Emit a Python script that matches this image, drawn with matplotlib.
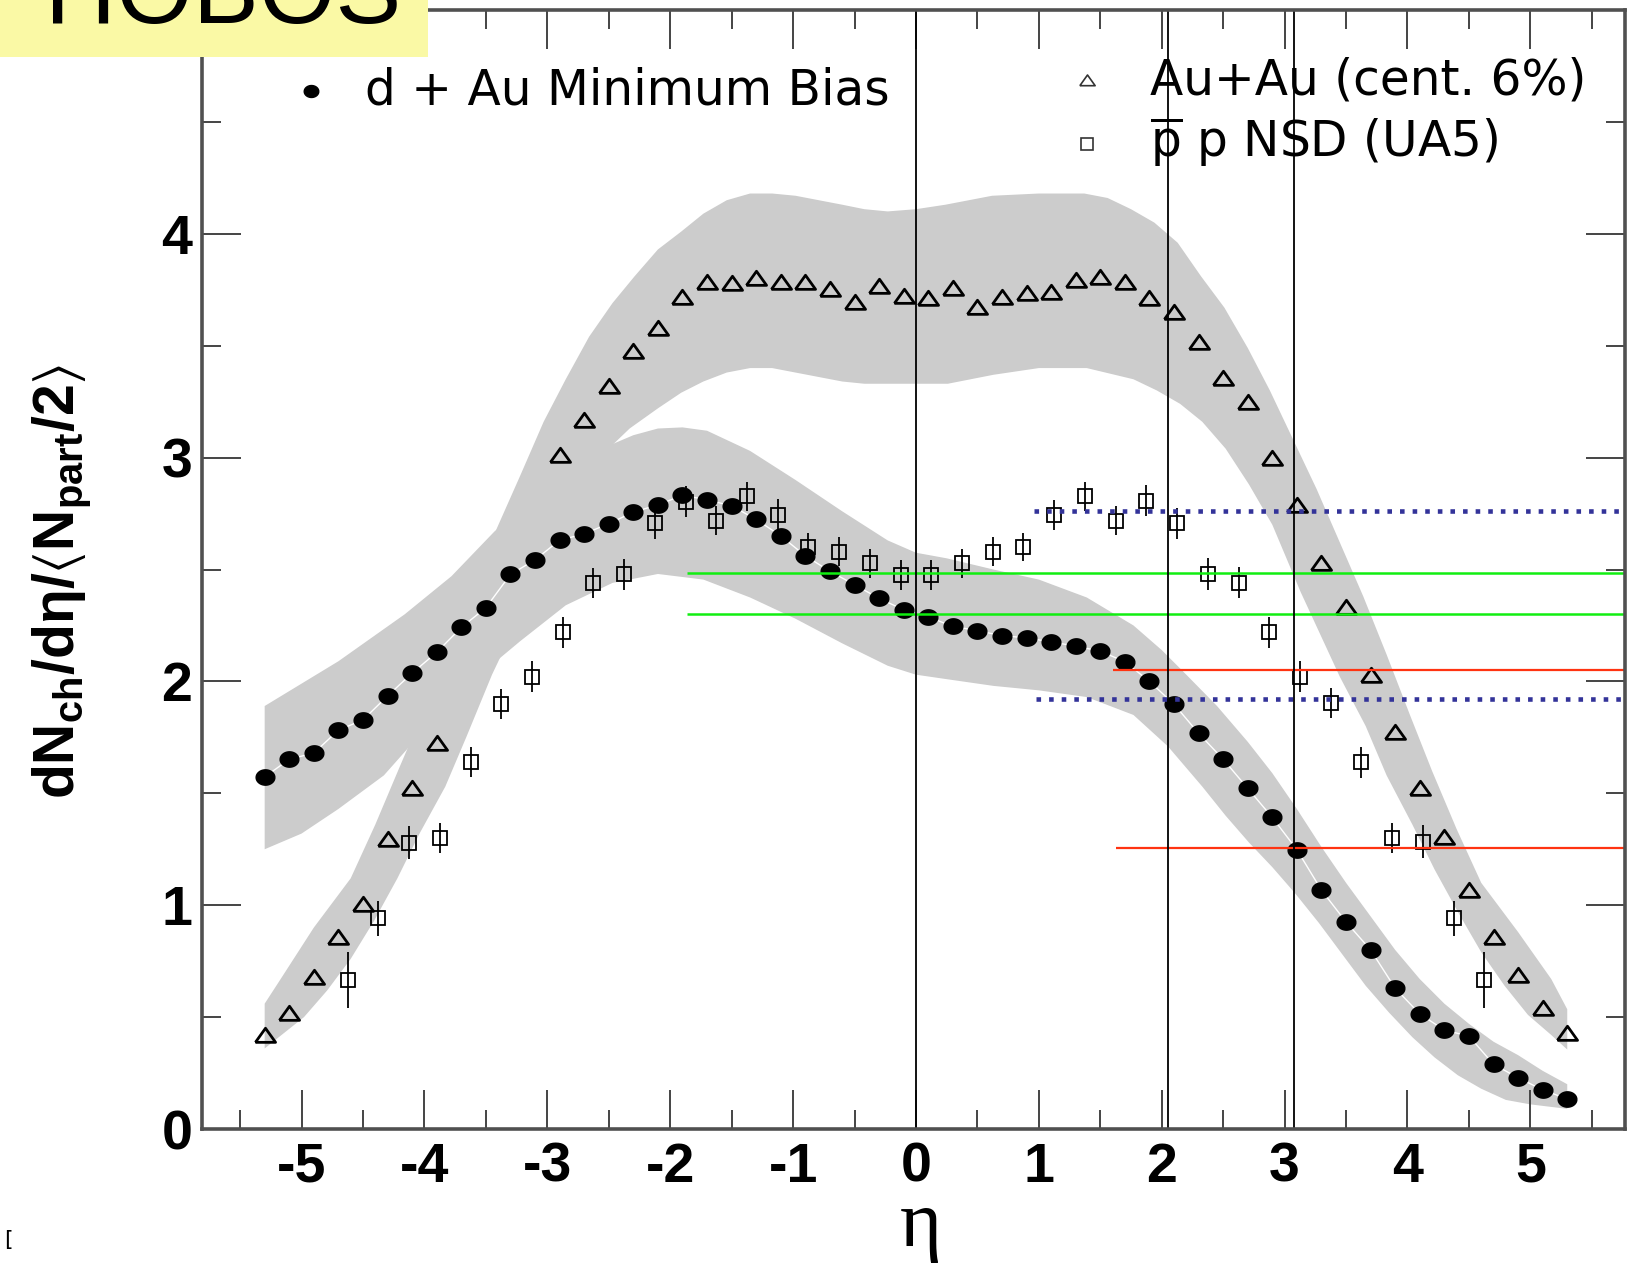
import numpy as np
import matplotlib
matplotlib.use("Agg")
import matplotlib.pyplot as plt
from matplotlib.patches import Rectangle

# ---------------- data ----------------
dau_eta = [-5.3, -5.1, -4.9, -4.7, -4.5, -4.3, -4.1, -3.9, -3.7, -3.5,
           -3.3, -3.1, -2.9, -2.7, -2.5, -2.3, -2.1, -1.9, -1.7, -1.5,
           -1.3, -1.1, -0.9, -0.7, -0.5, -0.3, -0.1, 0.1, 0.3, 0.5,
           0.7, 0.9, 1.1, 1.3, 1.5, 1.7, 1.9, 2.1, 2.3, 2.5,
           2.7, 2.9, 3.1, 3.3, 3.5, 3.7, 3.9, 4.1, 4.3, 4.5,
           4.7, 4.9, 5.1, 5.3]
dau_val = [1.573, 1.652, 1.680, 1.782, 1.828, 1.935, 2.037, 2.130, 2.241, 2.329,
           2.478, 2.543, 2.631, 2.659, 2.705, 2.756, 2.789, 2.831, 2.812, 2.784,
           2.724, 2.650, 2.561, 2.492, 2.432, 2.371, 2.320, 2.288, 2.246, 2.227,
           2.204, 2.195, 2.176, 2.158, 2.135, 2.088, 2.000, 1.898, 1.768, 1.652,
           1.522, 1.392, 1.248, 1.067, 0.925, 0.800, 0.629, 0.514, 0.442, 0.415,
           0.289, 0.229, 0.175, 0.134]

auau_eta = [-5.3, -5.1, -4.9, -4.7, -4.5, -4.3, -4.1, -3.9,
            -2.9, -2.7, -2.5, -2.3, -2.1, -1.9, -1.7, -1.5, -1.3, -1.1,
            -0.9, -0.7, -0.5, -0.3, -0.1, 0.1, 0.3, 0.5, 0.7, 0.9,
            1.1, 1.3, 1.5, 1.7, 1.9, 2.1, 2.3, 2.5, 2.7, 2.9,
            3.1, 3.3, 3.5, 3.7, 3.9, 4.1, 4.3, 4.5, 4.7, 4.9, 5.1, 5.3]
auau_val = [0.420, 0.520, 0.681, 0.857, 1.005, 1.296, 1.522, 1.726,
            3.012, 3.168, 3.322, 3.478, 3.578, 3.719, 3.786, 3.782, 3.801, 3.786,
            3.786, 3.752, 3.697, 3.767, 3.722, 3.712, 3.757, 3.674, 3.719, 3.734,
            3.741, 3.794, 3.806, 3.786, 3.712, 3.652, 3.518, 3.355, 3.250, 2.997,
            2.788, 2.530, 2.334, 2.029, 1.775, 1.522, 1.306, 1.068, 0.859, 0.688, 0.539, 0.428]

ua5_eta = [-4.625, -4.375, -4.125, -3.875, -3.625, -3.375, -3.125, -2.875, -2.625, -2.375,
           -2.125, -1.875, -1.625, -1.375, -1.125, -0.875, -0.625, -0.375, -0.125,
           0.125, 0.375, 0.625, 0.875, 1.125, 1.375, 1.625, 1.875, 2.125, 2.375,
           2.625, 2.875, 3.125, 3.375, 3.625, 3.875, 4.125, 4.375, 4.625]
ua5_val = [0.666, 0.941, 1.280, 1.299, 1.639, 1.900, 2.020, 2.219, 2.440, 2.479,
           2.706, 2.803, 2.718, 2.828, 2.745, 2.600, 2.580, 2.528, 2.475,
           2.475, 2.528, 2.580, 2.600, 2.744, 2.828, 2.718, 2.807, 2.706, 2.480,
           2.441, 2.219, 2.021, 1.902, 1.638, 1.299, 1.284, 0.941, 0.666]
ua5_err = [0.125, 0.077, 0.074, 0.067, 0.068, 0.067, 0.069, 0.070, 0.068, 0.070,
           0.070, 0.070, 0.066, 0.065, 0.068, 0.061, 0.065, 0.065, 0.067,
           0.067, 0.065, 0.065, 0.061, 0.068, 0.065, 0.066, 0.070, 0.070, 0.070,
           0.068, 0.070, 0.069, 0.067, 0.068, 0.067, 0.074, 0.077, 0.125]

# systematic bands (edges)
dau_up_eta = [-5.3, -5.0, -4.7, -4.16, -3.78, -3.43, -3.0, -2.6, -2.3, -2.1, -1.9, -1.7,
              -1.35, -0.98, -0.6, -0.23, 0.0, 0.25, 0.63, 1.0, 1.39, 1.77, 2.0, 2.2,
              2.45, 2.7, 2.9, 3.1, 3.3, 3.5, 3.7, 3.9, 4.1, 4.3, 4.5, 4.7, 4.9, 5.1, 5.3]
dau_up_val = [1.89, 1.99, 2.09, 2.30, 2.47, 2.67, 2.87, 3.03, 3.10, 3.13, 3.135, 3.12,
              3.03, 2.90, 2.76, 2.63, 2.575, 2.55, 2.50, 2.455, 2.375, 2.25, 2.14, 2.03,
              1.89, 1.73, 1.59, 1.43, 1.26, 1.10, 0.95, 0.80, 0.67, 0.56, 0.47, 0.39, 0.33, 0.26, 0.20]
dau_lo_eta = [-5.3, -5.0, -4.7, -4.33, -4.12, -3.8, -3.46, -3.22, -2.85, -2.47, -2.1, -1.73,
              -1.35, -0.98, -0.6, -0.23, 0.0, 0.25, 0.63, 1.0, 1.39, 1.77, 2.05, 2.33,
              2.52, 2.71, 2.9, 3.09, 3.28, 3.47, 3.66, 3.85, 4.04, 4.22, 4.41, 4.6, 4.8, 5.0, 5.3]
dau_lo_val = [1.25, 1.32, 1.43, 1.58, 1.71, 1.88, 2.07, 2.18, 2.34, 2.44, 2.48, 2.455,
              2.375, 2.28, 2.17, 2.07, 2.03, 2.01, 1.98, 1.96, 1.93, 1.85, 1.71, 1.53,
              1.40, 1.28, 1.17, 1.05, 0.92, 0.78, 0.64, 0.52, 0.41, 0.32, 0.24, 0.18, 0.13, 0.11, 0.09]

auau_up_eta = [-5.3, -5.17, -4.9, -4.6, -4.4, -4.2, -4.02, -3.83, -3.64, -3.43, -3.22, -3.03,
               -2.85, -2.66, -2.47, -2.29, -2.10, -1.91, -1.73, -1.54, -1.35, -1.17, -0.98,
               -0.79, -0.60, -0.42, -0.23, 0.0, 0.24, 0.62, 1.0, 1.37, 1.56, 1.75, 1.94, 2.13,
               2.32, 2.51, 2.70, 2.88, 3.07, 3.26, 3.45, 3.64, 3.83, 4.02, 4.2, 4.4, 4.6, 4.9,
               5.17, 5.3]
auau_up_val = [0.56, 0.67, 0.90, 1.12, 1.36, 1.62, 1.85, 2.12, 2.38, 2.66, 2.92, 3.16,
               3.35, 3.54, 3.69, 3.81, 3.93, 4.01, 4.09, 4.15, 4.18, 4.18, 4.17,
               4.15, 4.13, 4.11, 4.10, 4.11, 4.13, 4.17, 4.18, 4.18, 4.16, 4.11, 4.05, 3.96,
               3.81, 3.67, 3.49, 3.30, 3.08, 2.86, 2.62, 2.38, 2.12, 1.85, 1.60, 1.34, 1.10, 0.88,
               0.67, 0.535]
auau_lo_eta = [-5.3, -4.98, -4.79, -4.6, -4.41, -4.22, -4.04, -3.83, -3.66, -3.45, -3.13, -2.90,
               -2.71, -2.52, -2.33, -2.10, -1.91, -1.73, -1.54, -1.35, -1.17, -0.98, -0.79,
               -0.60, -0.42, -0.23, 0.0, 0.26, 0.63, 1.0, 1.39, 1.77, 1.96, 2.15, 2.33, 2.52,
               2.71, 2.90, 3.13, 3.45, 3.66, 3.83, 4.04, 4.22, 4.41, 4.60, 4.79, 4.98, 5.17, 5.3]
auau_lo_val = [0.36, 0.50, 0.62, 0.76, 0.93, 1.12, 1.32, 1.53, 1.75, 2.03, 2.40, 2.72,
               2.90, 3.03, 3.13, 3.22, 3.29, 3.34, 3.38, 3.40, 3.40, 3.38, 3.36,
               3.34, 3.33, 3.33, 3.33, 3.33, 3.37, 3.40, 3.40, 3.35, 3.30, 3.24, 3.16, 3.04,
               2.88, 2.70, 2.40, 2.02, 1.80, 1.58, 1.36, 1.16, 0.97, 0.79, 0.64, 0.51, 0.42, 0.355]

# reference lines
vline_eta = [0.0, 2.05, 3.08]
green_y = [2.483, 2.302]
green_start = [-1.86, -1.86]
red_y = [2.05, 1.257]
red_start = [1.60, 1.63]
blue_y = [2.76, 1.92]
blue_start = [0.96, 0.98]

xtick_vals = [-5, -4, -3, -2, -1, 0, 1, 2, 3, 4, 5]
ytick_vals = [0, 1, 2, 3, 4]

legend_labels = ["d + Au Minimum Bias", "Au+Au (cent. 6%)",
                 r"$\overline{\mathsf{p}}$ p NSD (UA5)"]

# ---------------- style ----------------
plt.rcParams['axes.unicode_minus'] = False
plt.rcParams['mathtext.fontset'] = 'custom'
plt.rcParams['mathtext.rm'] = 'Liberation Sans:bold'
plt.rcParams['mathtext.it'] = 'Liberation Sans:bold'
plt.rcParams['mathtext.bf'] = 'Liberation Sans:bold'
plt.rcParams['mathtext.sf'] = 'DejaVu Sans'
plt.rcParams['mathtext.fallback'] = 'stixsans'

W, H = 1628, 1264
fig = plt.figure(figsize=(W / 100, H / 100), dpi=100)
ax = fig.add_axes([202 / W, (H - 1129) / H, (1625 - 202) / W, (1129 - 10) / H])
XMIN, XMAX = -5.81, 5.77
ax.set_xlim(XMIN, XMAX)
ax.set_ylim(0, 5)

band_color = '#cccccc'
ax.fill(list(auau_up_eta) + list(auau_lo_eta[::-1]),
        list(auau_up_val) + list(auau_lo_val[::-1]), color=band_color, lw=0, zorder=1)
ax.fill(list(dau_up_eta) + list(dau_lo_eta[::-1]),
        list(dau_up_val) + list(dau_lo_val[::-1]), color=band_color, lw=0, zorder=1)

ax.plot(dau_eta, dau_val, color='white', lw=1.0, zorder=2)

theta = np.linspace(0, 2 * np.pi, 41)
ellipse = np.column_stack([np.cos(theta), 0.82 * np.sin(theta)])
tri = [(-1, -0.68), (1, -0.68), (0, 0.72), (-1, -0.68)]

ax.plot(dau_eta, dau_val, ls='none', marker=ellipse, ms=13.5, color='black', zorder=4)
ax.plot(auau_eta, auau_val, ls='none', marker=tri, ms=14.5, mfc='none', mec='black',
        mew=2.0, zorder=4)
ax.errorbar(ua5_eta, ua5_val, yerr=ua5_err, fmt='none', ecolor='black', elinewidth=1.3,
            capsize=0, zorder=3)
ax.plot(ua5_eta, ua5_val, ls='none', marker='s', ms=10.5, mfc='none', mec='black',
        mew=1.3, zorder=4)

for y, x0 in zip(green_y, green_start):
    ax.hlines(y, x0, XMAX, color='#11ee11', lw=1.8, zorder=6)
for y, x0 in zip(red_y, red_start):
    ax.hlines(y, x0, XMAX, color='#ff3311', lw=1.6, zorder=6)
for y, x0 in zip(blue_y, blue_start):
    ax.plot([x0, XMAX], [y, y], color='#333399', lw=3.3, ls=(0, (1.0, 1.75)),
            dash_capstyle='butt', zorder=6)
for x in vline_eta:
    ax.axvline(x, color='black', lw=1.3, zorder=7)

# legend (drawn by hand, like the original)
ax.plot([-4.92], [4.64], ls='none', marker=ellipse, ms=10.5, color='black', clip_on=False)
ax.text(-4.48, 4.64, legend_labels[0], fontsize=35, family='DejaVu Sans',
        va='center', ha='left')
ax.plot([1.39], [4.687], ls='none', marker=tri, ms=11, mfc='none', mec='#333333', mew=1.2)
ax.text(1.904, 4.687, legend_labels[1], fontsize=35, family='DejaVu Sans',
        va='center', ha='left')
ax.plot([1.39], [4.40], ls='none', marker='s', ms=9, mfc='none', mec='#333333', mew=1.2)
ax.text(1.904, 4.41, legend_labels[2], fontsize=35, family='DejaVu Sans',
        va='center', ha='left')

# axes styling
ax.set_xticks(xtick_vals)
ax.set_xticklabels([str(v) for v in xtick_vals])
ax.set_xticks(np.arange(-5.5, 5.6, 1.0), minor=True)
ax.set_yticks(ytick_vals)
ax.set_yticklabels([str(v) for v in ytick_vals])
ax.set_yticks([0.5, 1.5, 2.5, 3.5, 4.5], minor=True)
ax.tick_params(which='both', direction='in', top=True, right=True, color='#444444', width=1.4)
ax.tick_params(which='major', length=28)
ax.tick_params(which='minor', length=13.5)
ax.tick_params(axis='x', pad=9)
ax.tick_params(axis='y', pad=7)
for lab in ax.get_xticklabels() + ax.get_yticklabels():
    lab.set_fontsize(40)
    lab.set_fontweight('bold')
    lab.set_family('Liberation Sans')
for sp in ax.spines.values():
    sp.set_linewidth(2.6)
    sp.set_color('#505050')
    sp.set_zorder(8)

# axis titles
fig.text(62 / W, 1 - 581 / H, r'$\mathrm{dN_{ch}/d\eta/\langle N_{part}/2\rangle}$',
         rotation=90, ha='center', va='center', fontsize=41)
fig.text(921 / W, (H - 1246) / H, 'η', family='Liberation Serif', fontsize=58,
         ha='center', va='baseline')
fig.text(8 / W, 1 - 1240 / H, '[', fontsize=16, va='center', ha='center')

# PHOBOS banner
fig.patches.append(Rectangle((0, (H - 57) / H), 428 / W, 57 / H, transform=fig.transFigure,
                             facecolor='#faf9a5', edgecolor='none', zorder=5))
fig.text(402 / W, (H - 23) / H, 'PHOBOS', ha='right', va='baseline', fontsize=71,
         family='Liberation Sans', zorder=6)

fig.savefig('out.png', dpi=100)
